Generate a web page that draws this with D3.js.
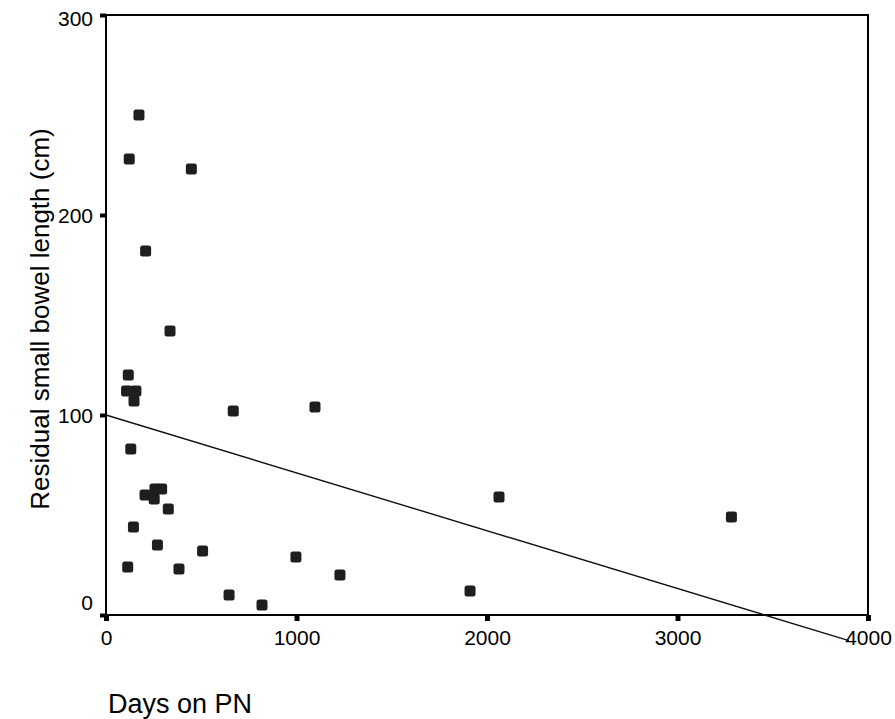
<!DOCTYPE html>
<html>
<head>
<meta charset="utf-8">
<script src="https://cdn.jsdelivr.net/npm/d3@7"></script>
<style>
  body { margin: 0; background: #fff; }
  svg { display: block; font-family: Arial, "Liberation Sans", sans-serif; }
</style>
</head>
<body>
<svg width="895" height="719"></svg>
<script>
// Данные
const daysOnPN = [173, 122, 448, 208, 336, 117, 108, 157, 147, 668, 1097, 130,
                  205, 253, 257, 292, 327, 144, 270, 507, 114, 383, 997, 1228,
                  646, 819, 2063, 3283, 1911];
const bowelLength = [250, 228, 223, 182, 142, 120, 112, 112, 107, 102, 104, 83,
                     60, 58, 63, 63, 53, 44, 35, 32, 24, 23, 29, 20,
                     10, 5, 59, 49, 12];
// линия регрессии (концы)
const fitX = [0, 3900];
const fitY = [100, -12.8];
const xTicks = [0, 1000, 2000, 3000, 4000];
const yTicks = [0, 100, 200, 300];

let svg = d3.select("svg");

let area = { left: 106, right: 868, top: 15, bottom: 615 };

let scX = d3.scaleLinear().domain([0, 4000]).range([area.left, area.right]);
let scY = d3.scaleLinear().domain([0, 300]).range([area.bottom, area.top]);

// рамка
svg.append("rect")
    .attr("x", area.left)
    .attr("y", area.top)
    .attr("width", area.right - area.left)
    .attr("height", area.bottom - area.top)
    .style("fill", "none")
    .style("stroke", "#000")
    .style("stroke-width", 2);

// оси
let gx = svg.append("g")
    .attr("transform", `translate(0, ${area.bottom})`)
    .call(d3.axisBottom(scX).tickValues(xTicks).tickFormat(d3.format("d"))
        .tickSize(6).tickSizeOuter(0).tickPadding(9));
gx.select(".domain").remove();
gx.selectAll(".tick line").style("stroke-width", 5);
gx.selectAll("text").style("font-size", "21px").style("fill", "#000");

let gy = svg.append("g")
    .attr("transform", `translate(${area.left}, 0)`)
    .call(d3.axisLeft(scY).tickValues(yTicks).tickFormat(d3.format("d"))
        .tickSize(6).tickSizeOuter(0).tickPadding(7));
gy.select(".domain").remove();
gy.selectAll(".tick line").style("stroke-width", 4);
gy.selectAll("text")
    .style("font-size", "21px")
    .style("fill", "#000")
    .attr("dy", d => d == 0 ? "-0.25em" : (d == 300 ? "0.5em" : "0.35em"));

// линия тренда
let line = d3.line()
    .x(d => scX(d[0]))
    .y(d => scY(d[1]));
svg.append("path")
    .datum(fitX.map((x, i) => [x, fitY[i]]))
    .attr("d", line)
    .style("fill", "none")
    .style("stroke", "#111")
    .style("stroke-width", 1.4);

// точки
const s = 11;
svg.selectAll(".pt")
    .data(daysOnPN.map((x, i) => ({ x: x, y: bowelLength[i] })))
    .enter()
    .append("rect")
    .attr("class", "pt")
    .attr("x", d => scX(d.x) - s / 2)
    .attr("y", d => scY(d.y) - s / 2)
    .attr("width", s)
    .attr("height", s)
    .attr("rx", 2.5)
    .style("fill", "#1e1e1e");

// подписи осей
svg.append("text")
    .attr("x", 108)
    .attr("y", 713)
    .style("font-size", "27px")
    .text("Days on PN");

svg.append("text")
    .attr("transform", "translate(49, 319) rotate(-90)")
    .attr("text-anchor", "middle")
    .style("font-size", "26px")
    .text("Residual small bowel length (cm)");
</script>
</body>
</html>
